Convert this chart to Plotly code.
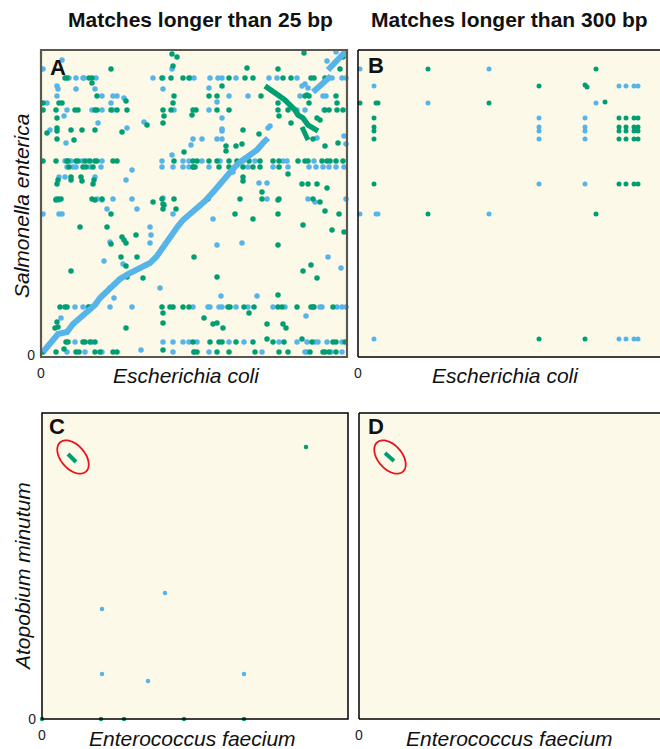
import numpy as np
import plotly.graph_objects as go

W, H = 660, 749
BLUE = "#56B4E9"
GREEN = "#009E73"
BG = "#FDF9E8"
FONT = "Arial, Liberation Sans, sans-serif"

# ---------------- Panel A (E. coli vs S. enterica, > 25 bp) ----------------
# positions in genome bins (x: E. coli, y: S. enterica)
A_rows_y = [277, 245, 194, 188, 48, 13, 3]
A_rows_green_x = [
    [24, 26, 48, 51, 121, 130, 142, 148, 188, 204, 212, 242, 250, 270, 273, 284],
    [2, 15, 34, 37, 54, 56, 70, 76, 86, 122, 130, 152, 155, 176, 188, 237, 247, 284, 288, 296, 302],
    [2, 15, 26, 27, 35, 37, 44, 49, 54, 56, 72, 76, 133, 152, 156, 168, 176, 188, 196, 208, 219,
     232, 238, 257, 264, 267, 281, 286, 289, 295, 302],
    [28, 42, 45, 52, 152, 154, 178, 188, 202, 212, 219, 238],
    [19, 24, 26, 48, 51, 121, 129, 132, 142, 148, 187, 189, 203, 213, 237, 241, 256, 270, 272, 273, 292],
    [25, 27, 42, 44, 49, 54, 152, 169, 178, 181, 195, 212, 232, 243, 271, 292, 295, 304],
    [2, 15, 35, 38, 54, 59, 72, 76, 153, 156, 176, 188, 214, 238, 247, 269, 282, 284, 288, 295],
]
A_rows_blue_x = [
    [28, 35, 42, 43, 55, 112, 122, 149, 153, 169, 177, 181, 195, 228, 236, 256, 291, 301, 305],
    [26, 51, 61, 72, 133, 168, 256, 264, 283],
    [24, 30, 41, 47, 61, 121, 142, 148, 161, 179, 202, 214, 242, 246, 273],
    [26, 32, 35, 49, 60, 121, 132, 142, 148, 152, 168, 207, 232, 247, 268, 275, 282, 288, 295, 303],
    [34, 42, 47, 69, 91, 152, 167, 169, 178, 181, 195, 207, 232, 244, 279, 281, 296, 301, 305],
    [34, 51, 122, 132, 142, 148, 156, 188, 203, 238, 256, 266, 274, 277, 286, 301],
    [26, 44, 61, 132, 153, 168, 221, 264, 266, 290, 301],
]
A_extra_green = [
    (56, 259), (85, 254), (133, 259), (168, 259), (176, 259), (220, 259), (264, 259), (268, 259), (295, 259),
    (2, 252), (18, 252), (21, 252), (132, 252), (237, 252), (268, 252), (296, 252),
    (181, 269), (70, 286), (132, 289), (206, 287), (237, 286), (299, 286), (131, 301), (136, 298),
    (263, 302), (302, 298), (51, 272), (266, 260),
    (123, 239), (151, 240), (16, 237), (276, 237), (279, 235), (106, 230), (122, 232), (238, 239), (250, 232),
    (16, 227), (16, 224), (6, 222), (30, 225), (41, 225), (54, 225), (81, 223), (202, 225), (218, 221),
    (16, 216), (33, 215), (195, 209), (201, 211), (185, 209), (185, 204), (272, 216), (284, 209), (297, 212),
    (143, 203), (247, 181), (202, 178), (30, 178), (40, 178), (17, 175), (30, 175), (41, 174), (53, 175),
    (16, 171), (52, 171), (202, 174), (261, 171), (267, 171), (276, 171), (286, 167),
    (17, 156), (20, 156), (51, 156), (61, 156), (121, 156), (133, 156), (167, 156), (199, 156), (221, 156),
    (238, 156), (272, 156), (112, 153), (122, 151), (279, 153), (221, 163), (15, 155), (54, 155),
    (70, 141), (123, 150), (122, 146), (135, 146), (237, 155), (284, 144), (298, 141), (194, 141),
    (212, 136), (237, 141), (262, 130), (291, 125), (303, 123),
    (39, 128), (66, 128), (95, 120), (81, 118), (83, 115), (85, 112), (70, 111), (237, 110),
    (80, 98), (96, 98), (85, 89), (30, 84), (153, 98), (262, 84), (270, 90), (276, 77), (86, 78),
    (102, 77), (69, 67), (176, 78), (237, 60),
    (122, 42), (122, 32), (16, 33), (14, 27), (17, 28), (85, 27), (208, 42), (163, 37), (172, 31),
    (176, 32), (182, 27), (226, 31), (242, 31), (245, 27),
    (23, 6), (122, 5), (226, 16), (261, 16),
]
A_extra_blue = [
    (16, 259), (61, 259), (72, 259), (76, 259), (83, 257), (188, 259), (207, 259), (259, 259), (282, 259), (285, 259),
    (6, 252), (70, 252), (176, 253),
    (17, 266), (16, 269), (35, 266), (54, 266), (122, 266), (168, 267), (261, 269), (267, 267), (264, 271),
    (2, 286), (131, 286), (21, 295), (295, 303), (286, 294),
    (23, 239), (181, 237), (57, 232), (103, 233), (9, 225), (86, 227), (181, 226), (181, 224), (303, 219),
    (25, 212), (150, 210), (152, 216), (161, 216), (176, 216), (181, 216), (276, 217), (305, 211), (131, 200),
    (91, 185), (192, 183), (18, 178), (24, 178), (54, 178), (85, 175), (218, 172), (226, 172),
    (15, 156), (56, 156), (72, 156), (91, 156), (122, 157), (226, 156), (267, 156), (274, 153), (305, 156),
    (18, 155), (61, 155),
    (2, 141), (18, 141), (21, 141), (66, 146), (96, 146), (132, 141), (172, 136),
    (109, 128), (110, 120), (69, 113), (109, 112), (176, 110), (201, 112),
    (63, 94), (82, 91), (287, 98), (300, 87), (119, 67), (73, 57), (180, 59), (216, 59),
    (20, 37), (265, 39), (100, 5), (227, 227), (229, 229),
]
# colinear (syntenic) blue diagonal and inverted green segment
A_diag_x = [2, 8, 14, 17, 26, 32, 39, 46, 54, 59, 65, 71, 79, 87, 96, 104, 109, 116, 122, 127, 132,
            137, 142, 149, 156, 164, 174, 182, 191, 199, 207, 216, 222, 227]
A_diag_y = [3, 10, 16, 21, 23, 31, 37, 43, 50, 57, 63, 68, 76, 81, 85, 89, 92, 99, 108, 114, 122,
            129, 135, 141, 146, 154, 165, 175, 185, 193, 199, 205, 212, 217]
A_diag2_x = [272, 282, 290]
A_diag2_y = [263, 273, 279]
A_diag3_x = [287, 296, 306]
A_diag3_y = [285, 295, 305]
A_inv_x = [224, 231, 237, 244, 249, 254, 257, 262, 267, 272, 277]
A_inv_y = [269, 265, 260, 255, 250, 245, 240, 237, 230, 227, 224]
A_inv2_x = [261, 264, 267]
A_inv2_y = [228, 222, 215]

# ---------------- Panel B (E. coli vs S. enterica, > 300 bp) ----------------
B_green = [(70, 288), (238, 288), (181, 271), (227, 272), (229, 270), (2, 254), (18, 254), (20, 254),
           (131, 254), (247, 255), (70, 143), (238, 143), (181, 18), (227, 18)]
B_blue = [(2, 288), (131, 288), (16, 271), (261, 271), (268, 271), (276, 271), (280, 271), (70, 254),
          (238, 254), (2, 143), (18, 143), (20, 143), (131, 143), (16, 18), (261, 18), (268, 18),
          (276, 18), (280, 18)]
B_grid_y = [239, 230, 226, 218, 173]
B_grid_green_x = [16, 261, 268, 276, 280]
B_grid_blue_x = [181, 227]

# ---------------- Panel C / D (E. faecium vs A. minutum) ----------------
C_green = [(264, 272), (0, 0), (59, 0), (82, 0), (142, 0), (202, 0)]
C_blue = [(123, 126), (60, 110), (60, 45), (106, 38), (202, 45)]
C_seg_x = [26, 34]
C_seg_y = [265, 257]
D_seg_x = [26, 35]
D_seg_y = [266, 258]
HIGHLIGHT_C = (31, 262)
HIGHLIGHT_D = (31, 262)


def px_x(p):
    return p / W


def px_y(p):
    return 1 - p / H


def unzip(pairs):
    return [p[0] for p in pairs], [p[1] for p in pairs]


fig = go.Figure()


def dots(x, y, color, size, xa, ya):
    fig.add_trace(go.Scatter(x=x, y=y, mode="markers", xaxis=xa, yaxis=ya, cliponaxis=False,
                             marker=dict(color=color, size=size, line=dict(width=0)),
                             showlegend=False, hoverinfo="skip"))


def seg(x, y, color, width, xa, ya):
    fig.add_trace(go.Scatter(x=x, y=y, mode="lines", xaxis=xa, yaxis=ya, cliponaxis=False,
                             line=dict(color=color, width=width, shape="linear"),
                             showlegend=False, hoverinfo="skip"))


# Panel A
ag_x, ag_y = [], []
ab_x, ab_y = [], []
for yv, gx, bx in zip(A_rows_y, A_rows_green_x, A_rows_blue_x):
    ag_x += gx; ag_y += [yv] * len(gx)
    ab_x += bx; ab_y += [yv] * len(bx)
ex, ey = unzip(A_extra_green); ag_x += ex; ag_y += ey
ex, ey = unzip(A_extra_blue); ab_x += ex; ab_y += ey
dots(ab_x, ab_y, BLUE, 5.5, "x", "y")
dots(ag_x, ag_y, GREEN, 5.5, "x", "y")
seg(A_diag_x, A_diag_y, BLUE, 6, "x", "y")
seg(A_diag2_x, A_diag2_y, BLUE, 6, "x", "y")
seg(A_diag3_x, A_diag3_y, BLUE, 6, "x", "y")
seg(A_inv_x, A_inv_y, GREEN, 5.5, "x", "y")
seg(A_inv2_x, A_inv2_y, GREEN, 5, "x", "y")

# Panel B
bg_x, bg_y = unzip(B_green)
bb_x, bb_y = unzip(B_blue)
for yv in B_grid_y:
    bg_x += B_grid_green_x; bg_y += [yv] * len(B_grid_green_x)
    bb_x += B_grid_blue_x; bb_y += [yv] * len(B_grid_blue_x)
dots(bb_x, bb_y, BLUE, 5, "x2", "y2")
dots(bg_x, bg_y, GREEN, 5, "x2", "y2")

# Panel C
cx, cy = unzip(C_blue)
dots(cx, cy, BLUE, 4.5, "x3", "y3")
cx, cy = unzip(C_green)
dots(cx, cy, GREEN, 4.5, "x3", "y3")
seg(C_seg_x, C_seg_y, GREEN, 4, "x3", "y3")

# Panel D
seg(D_seg_x, D_seg_y, GREEN, 4, "x4", "y4")

# ---------------- layout ----------------
dom = {
    "A": ([41, 347], [50, 357]),
    "B": ([358, 660], [50, 357]),
    "C": ([42, 348], [413, 719]),
    "D": ([359, 660], [413, 719]),
}
ranges = {
    "A": ([0, 306], [-2, 305]),
    "B": ([0, 302], [0, 307]),
    "C": ([0, 306], [0, 306]),
    "D": ([0, 301], [0, 306]),
}
names = ["A", "B", "C", "D"]
layout = dict(width=W, height=H, margin=dict(l=0, r=0, t=0, b=0, pad=0, autoexpand=False),
              paper_bgcolor="white", plot_bgcolor=BG, showlegend=False,
              font=dict(family=FONT, color="#111"))
for i, n in enumerate(names):
    sfx = "" if i == 0 else str(i + 1)
    (xd, yd) = dom[n]
    (xr, yr) = ranges[n]
    layout["xaxis" + sfx] = dict(domain=[px_x(xd[0]), px_x(xd[1])], range=xr, anchor="y" + sfx,
                                 showgrid=False, zeroline=False, showline=False, ticks="",
                                 tickvals=[0], ticktext=["0"], tickfont=dict(size=14, color="#222"),
                                 ticklabelstandoff=6, fixedrange=True, automargin=False)
    layout["yaxis" + sfx] = dict(domain=[px_y(yd[1]), px_y(yd[0])], range=yr, anchor="x" + sfx,
                                 showgrid=False, zeroline=False, showline=False, ticks="",
                                 tickvals=[0] if n in ("A", "C") else [], ticktext=["0"],
                                 tickfont=dict(size=14, color="#222"), ticklabelstandoff=5,
                                 fixedrange=True, automargin=False)

shapes = []
# panel frames
shapes.append(dict(type="rect", xref="x domain", yref="y domain", x0=0, x1=1, y0=0, y1=1,
                   line=dict(color="#5b574c", width=2.2), layer="above"))
shapes.append(dict(type="rect", xref="x3 domain", yref="y3 domain", x0=0, x1=1, y0=0, y1=1,
                   line=dict(color="#000", width=1.5), layer="above"))
for k in ("2", "4"):
    for (x0, y0, x1, y1) in [(0, 0, 0, 1), (0, 1, 1, 1), (0, 0, 1, 0)]:
        shapes.append(dict(type="line", xref="x%s domain" % k, yref="y%s domain" % k,
                           x0=x0, y0=y0, x1=x1, y1=y1, line=dict(color="#000", width=1.5),
                           layer="above"))


def ellipse_path(cx, cy, a, b, ang):
    t = np.linspace(0, 2 * np.pi, 73)
    ca, sa = np.cos(ang), np.sin(ang)
    xs = cx + a * np.cos(t) * ca - b * np.sin(t) * sa
    ys = cy + a * np.cos(t) * sa + b * np.sin(t) * ca
    return "M " + " L ".join("%.2f,%.2f" % (x, y) for x, y in zip(xs, ys)) + " Z"


for (k, c) in (("3", HIGHLIGHT_C), ("4", HIGHLIGHT_D)):
    shapes.append(dict(type="path", xref="x" + k, yref="y" + k,
                       path=ellipse_path(c[0], c[1], 19.5, 12, -np.pi * 0.27),
                       line=dict(color="#E8141B", width=1.8)))
layout["shapes"] = shapes

ann = []


def text(s, xp, yp, size, bold=False, italic=False, angle=0, xanchor="center"):
    if bold:
        s = "<b>%s</b>" % s
    if italic:
        s = "<i>%s</i>" % s
    ann.append(dict(text=s, x=px_x(xp), y=px_y(yp), xref="paper", yref="paper", showarrow=False,
                    xanchor=xanchor, yanchor="middle", textangle=angle,
                    font=dict(size=size, family=FONT, color="#111")))


text("Matches longer than 25 bp", 200, 20, 21, bold=True)
text("Matches longer than 300 bp", 509, 20, 21, bold=True)
text("Salmonella enterica", 22, 206, 21, italic=True, angle=-90)
text("Atopobium minutum", 22, 577, 21, italic=True, angle=-90)
text("Escherichia coli", 186, 375, 21, italic=True)
text("Escherichia coli", 505, 375, 21, italic=True)
text("Enterococcus faecium", 192, 738, 21, italic=True)
text("Enterococcus faecium", 509, 738, 21, italic=True)
text("A", 48, 68, 22, bold=True, xanchor="left")
text("B", 366, 65, 22, bold=True, xanchor="left")
text("C", 47, 427, 22, bold=True, xanchor="left")
text("D", 366, 426, 22, bold=True, xanchor="left")
layout["annotations"] = ann

fig.update_layout(**layout)
fig.write_html("out.html", config={"displayModeBar": False},
               post_script="document.body.style.margin='0';document.body.style.overflow='hidden';")
